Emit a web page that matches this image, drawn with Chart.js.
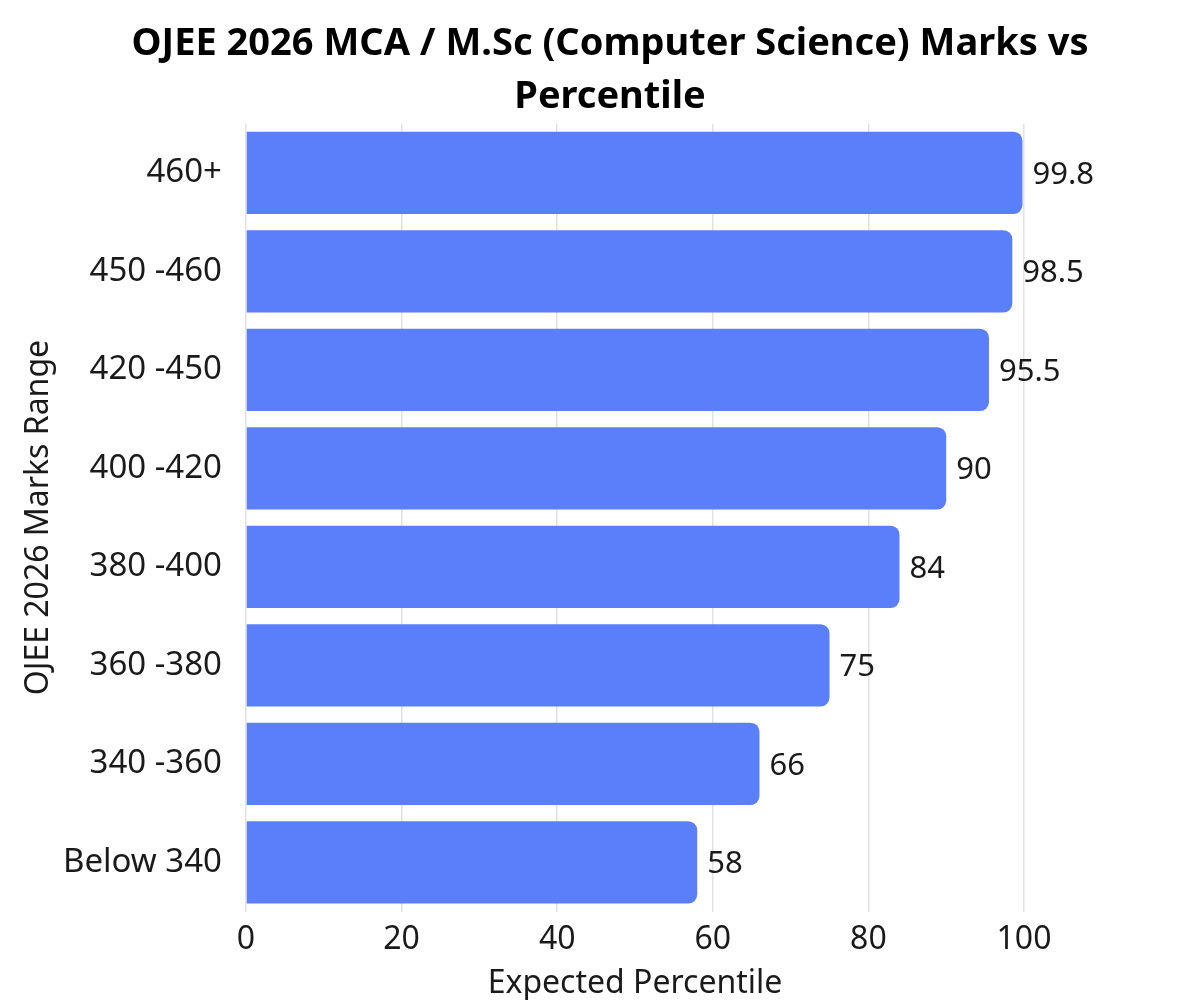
<!DOCTYPE html>
<html>
<head>
<meta charset="utf-8">
<script src="https://cdn.jsdelivr.net/npm/chart.js@4"></script>
<style>
  html, body { margin: 0; padding: 0; background: #fff; }
  #wrap { width: 1200px; height: 1000px; }
</style>
</head>
<body>
<div id="wrap"><canvas id="grafico"></canvas></div>
<script>
// categorie e valori
var categorie = ["460+", "450 -460", "420 -450", "400 -420", "380 -400", "360 -380", "340 -360", "Below 340"];
var percentili = [99.8, 98.5, 95.5, 90, 84, 75, 66, 58];
var tickX = [0, 20, 40, 60, 80, 100];

// plugin semplice per le etichette alla fine delle barre
var etichette = {
  id: 'etichette',
  afterDatasetsDraw: function(chart) {
    var ctx = chart.ctx;
    var meta = chart.getDatasetMeta(0);
    ctx.save();
    ctx.font = '31px "Noto Sans"';
    ctx.fillStyle = '#1a1a1a';
    ctx.textAlign = 'left';
    ctx.textBaseline = 'middle';
    meta.data.forEach(function(bar, i) {
      ctx.fillText(String(percentili[i]), bar.x + 10, bar.y + 2);
    });
    ctx.restore();
  }
};

var ctx = document.getElementById('grafico');
var chart = new Chart(ctx, {
  type: 'bar',
  data: {
    labels: categorie,
    datasets: [{
      label: 'Expected Percentile',
      data: percentili,
      backgroundColor: '#5b7ff8',
      borderRadius: { topRight: 9, bottomRight: 9 },
      borderSkipped: 'start',
      barPercentage: 0.93,
      categoryPercentage: 0.9
    }]
  },
  options: {
    indexAxis: 'y',
    responsive: true,
    maintainAspectRatio: false,
    animation: false,
    layout: { padding: { left: 20, right: 0, top: 0, bottom: 0 } },
    plugins: {
      legend: { display: false },
      tooltip: { enabled: false },
      title: {
        display: true,
        text: ['OJEE 2026 MCA / M.Sc (Computer Science) Marks vs', 'Percentile'],
        color: '#000',
        font: { family: 'Noto Sans', size: 38, weight: 'bold', lineHeight: 1.39 },
        padding: { top: 18, bottom: 0 }
      }
    },
    scales: {
      x: {
        min: 0,
        max: 100,
        afterBuildTicks: function(axis) {
          axis.ticks = tickX.map(function(v) { return { value: v }; });
        },
        grid: { color: '#e2e2e2', lineWidth: 1.5, drawTicks: false },
        border: { display: false },
        ticks: { color: '#1a1a1a', font: { family: 'Noto Sans', size: 32 }, padding: 9 },
        title: {
          display: true,
          text: 'Expected Percentile',
          color: '#1a1a1a',
          font: { family: 'Noto Sans', size: 32, lineHeight: 1.0 },
          padding: { top: 0, bottom: 0 }
        }
      },
      y: {
        afterFit: function(axis) { axis.width = 226; },
        grid: { display: false, drawTicks: false },
        border: { display: false },
        ticks: { color: '#1a1a1a', font: { family: 'Noto Sans', size: 33 }, padding: 24 },
        title: {
          display: true,
          text: 'OJEE 2026 Marks Range',
          color: '#1a1a1a',
          font: { family: 'Noto Sans', size: 32 },
          padding: 0
        }
      },
      spazio: {
        axis: 'y',
        position: 'right',
        afterFit: function(axis) { axis.width = 176; },
        grid: { display: false, drawTicks: false },
        border: { display: false },
        ticks: { display: false }
      }
    }
  },
  plugins: [etichette]
});
</script>
</body>
</html>
